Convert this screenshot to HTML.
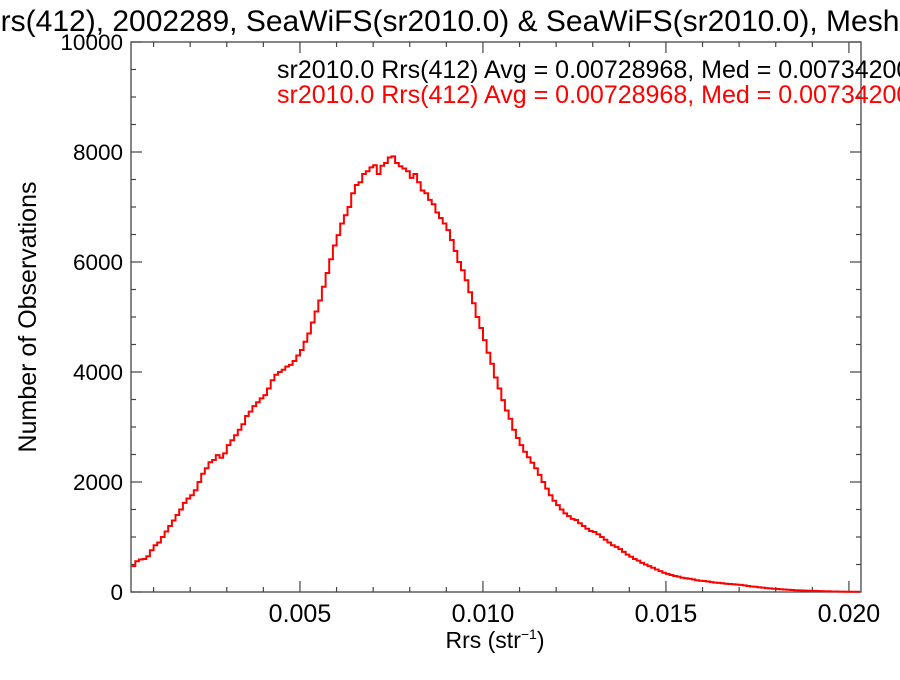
<!DOCTYPE html>
<html><head><meta charset="utf-8"><style>
html,body{margin:0;padding:0;background:#fff;overflow:hidden}
svg text{font-family:"Liberation Sans",Arial,sans-serif}
</style></head><body>
<svg id="chart" width="900" height="675" xmlns="http://www.w3.org/2000/svg">
<text x="-21" y="31" font-size="30" fill="#000">Rrs(412), 2002289, SeaWiFS(sr2010.0) &amp; SeaWiFS(sr2010.0), Mesh</text>
<g id="axes"></g>
<path id="hist" fill="none" stroke="#ff0000" stroke-width="2"/>
<text x="277" y="78" font-size="25" fill="#000">sr2010.0 Rrs(412) Avg = 0.00728968, Med = 0.00734200</text>
<text x="277" y="103" font-size="25" fill="#ff0000">sr2010.0 Rrs(412) Avg = 0.00728968, Med = 0.00734200</text>
<text transform="translate(36,317) rotate(-90)" text-anchor="middle" font-size="25">Number of Observations</text>
<text x="495" y="648" text-anchor="middle" font-size="23">Rrs (str<tspan font-size="14" dy="-9">−1</tspan><tspan dy="9">)</tspan></text>
</svg>
<script>
const binStart = 0.0004;
const binWidth = 0.0001;
const counts = [470,560,590,600,650,760,
850,900,1000,1100,1200,1300,1400,1500,1620,1700,
1760,1850,2000,2150,2250,2360,2400,2490,2440,2520,
2670,2760,2850,2950,3050,3200,3280,3380,3450,3520,
3580,3700,3850,3950,4000,4040,4100,4130,4200,4300,
4400,4550,4700,4900,5100,5300,5550,5800,6050,6300,
6490,6700,6850,7000,7250,7400,7450,7600,7650,7720,
7760,7600,7750,7800,7900,7920,7800,7740,7700,7650,
7530,7600,7450,7300,7250,7130,7050,6900,6800,6700,
6580,6400,6200,6000,5850,5670,5450,5250,5000,4800,
4580,4350,4150,3900,3700,3490,3300,3150,2950,2800,
2670,2550,2450,2350,2250,2130,2000,1880,1760,1660,
1580,1500,1430,1380,1330,1310,1250,1200,1150,1110,
1090,1050,1000,950,900,850,820,780,730,680,
640,600,570,530,500,470,440,410,380,350,
330,310,290,280,260,250,240,230,215,205,
200,190,180,170,165,160,150,145,140,135,
130,120,110,100,95,85,80,70,65,60,
55,50,45,40,36,32,30,27,25,22,
20,18,16,14,12,10,9,8,7,6,
5,4,3];
const xTicks = [0.005,0.010,0.015,0.020];
const xTickLabels = ["0.005","0.010","0.015","0.020"];
const yTicks = [0,2000,4000,6000,8000,10000];
const yTickLabels = ["0","2000","4000","6000","8000","10000"];

const L=131,R=861,T=42,B=592;
const xMin=0.000383, xMax=0.02033, yMin=0, yMax=10000;
const X=v=>L+(v-xMin)/(xMax-xMin)*(R-L);
const Y=v=>B-(v-yMin)/(yMax-yMin)*(B-T);
const NS="http://www.w3.org/2000/svg";
const axes=document.getElementById('axes');
function mk(tag,attrs){const e=document.createElementNS(NS,tag);for(const k in attrs)e.setAttribute(k,attrs[k]);return e;}
const frame=mk('rect',{x:L,y:T,width:R-L,height:B-T,fill:'none',stroke:'#444','stroke-width':1.3});


axes.appendChild(frame);
for(let i=1;i<=20;i++){const v=i*0.001; if(v<xMin||v>xMax)continue;
 const major=(i%5===0); const len=major?11:5;
 const t1=mk('line',{x1:X(v),x2:X(v),y1:B,y2:B-len,stroke:'#444','stroke-width':1.2});
 
 
 axes.appendChild(t1);
 const t2=mk('line',{x1:X(v),x2:X(v),y1:T,y2:T+len,stroke:'#444','stroke-width':1.2});
 
 
 axes.appendChild(t2);
}
xTicks.forEach((v,i)=>{const t=mk('text',{x:X(v),y:622,'text-anchor':'middle','font-size':25});
 t.textContent=xTickLabels[i];
 
 
 axes.appendChild(t);});
for(let v=0;v<=10000;v+=500){const major=(v%2000===0);const len=major?11:5;
 const t1=mk('line',{x1:L,x2:L+len,y1:Y(v),y2:Y(v),stroke:'#444','stroke-width':1.2});
 
 
 axes.appendChild(t1);
 const t2=mk('line',{x1:R,x2:R-len,y1:Y(v),y2:Y(v),stroke:'#444','stroke-width':1.2});
 
 
 axes.appendChild(t2);
}
yTicks.forEach((v,i)=>{const t=mk('text',{x:123,y:Y(v)+8,'text-anchor':'end','font-size':22.5});
 t.textContent=yTickLabels[i];
 
 
 axes.appendChild(t);});
let d='';
counts.forEach((c,i)=>{const x0=Math.max(X(binStart+i*binWidth),L),x1=Math.min(X(binStart+(i+1)*binWidth),R);
 const y=Y(c); d+=(i===0?'M':'L')+x0.toFixed(1)+','+y.toFixed(1)+'L'+x1.toFixed(1)+','+y.toFixed(1);});
document.getElementById('hist').setAttribute('d',d);
</script>
</body></html>
